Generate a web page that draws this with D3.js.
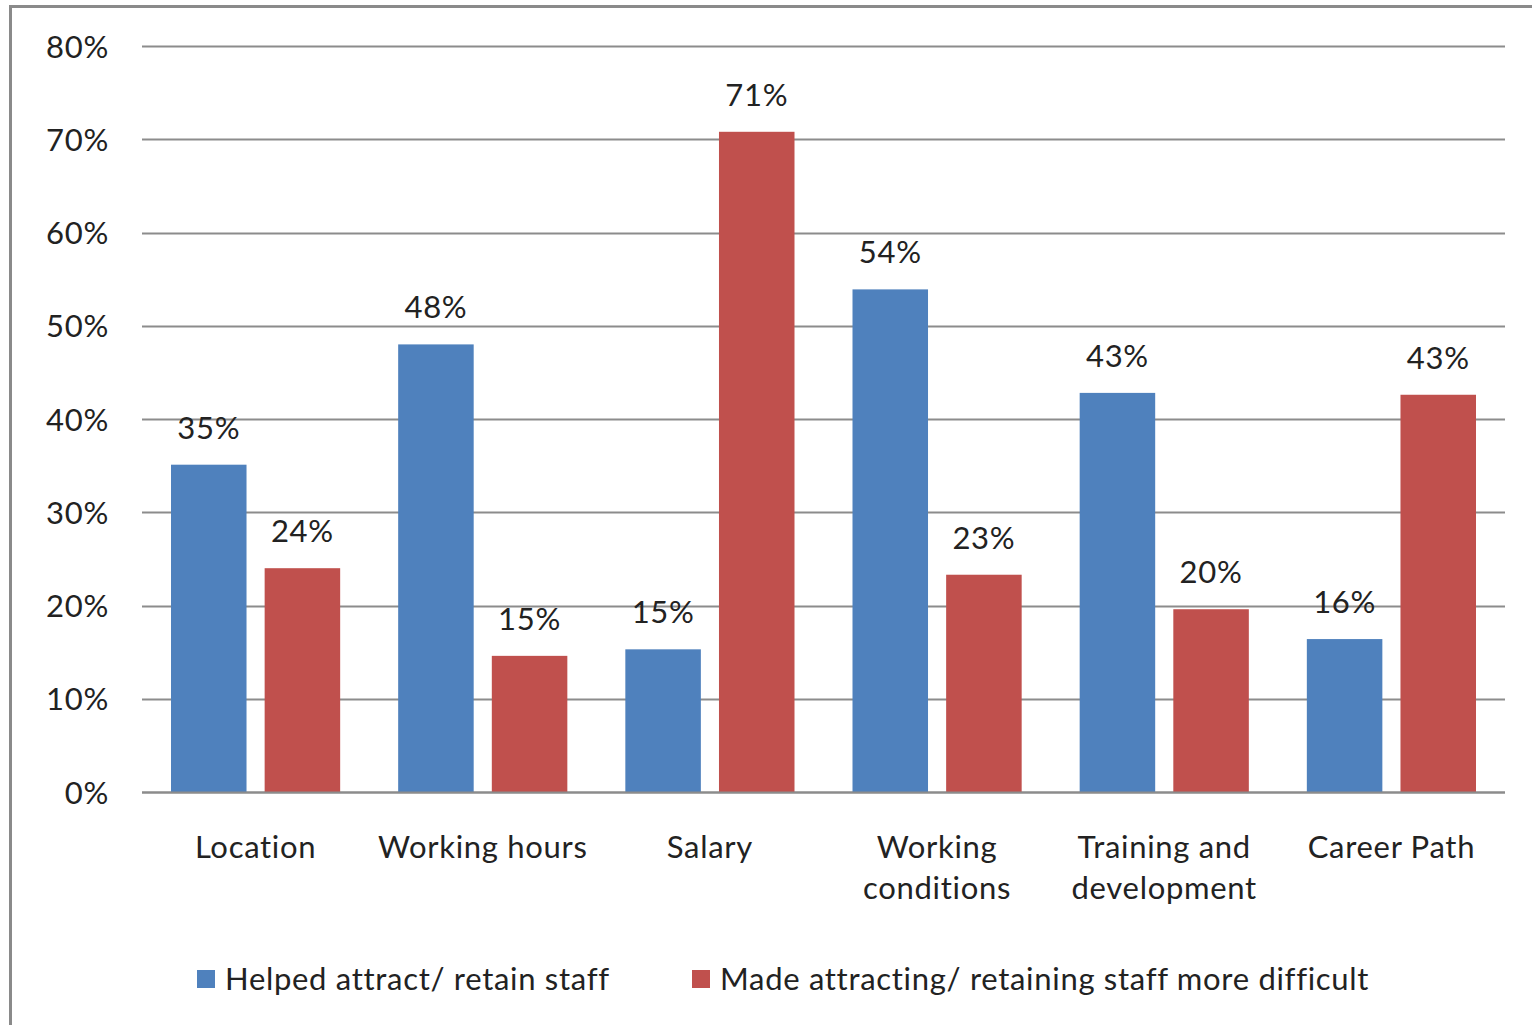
<!DOCTYPE html>
<html><head><meta charset="utf-8">
<script src="https://cdn.jsdelivr.net/npm/d3@7"></script>
<style>html,body{margin:0;padding:0;background:#fff;overflow:hidden}</style>
</head><body>
<script>
const categories = [["Location"],["Working hours"],["Salary"],["Working","conditions"],["Training and","development"],["Career Path"]];
const seriesNames = ["Helped attract/ retain staff","Made attracting/ retaining staff more difficult"];
const helped = [35.1, 48.0, 15.3, 53.9, 42.8, 16.4];
const difficult = [24.0, 14.6, 70.8, 23.3, 19.6, 42.6];
const yTicks = [0,10,20,30,40,50,60,70,80];
const colors = ["#4F81BD","#C0504D"];

const W=1532,H=1025;
const svg=d3.select("body").append("svg").attr("width",W).attr("height",H);
const font="Lato, 'Open Sans', sans-serif";
const fs=31, ls="0.7px";
svg.append("rect").attr("x",10.5).attr("y",6.5).attr("width",W+20).attr("height",H+20)
  .attr("fill","#fff").attr("stroke","#8a8a8a").attr("stroke-width",3);

const x0=d3.scaleBand().domain(d3.range(categories.length)).range([142,1505]).paddingInner(0).paddingOuter(0);
const y=d3.scaleLinear().domain([0,80]).range([792,46]);
const x1=d3.scaleBand().domain([0,1]).range([29, x0.bandwidth()-29]).paddingInner(18/93).paddingOuter(0);

// gridlines
svg.append("g").selectAll("line").data(yTicks).join("line")
  .attr("x1",142).attr("x2",1505).attr("y1",d=>Math.round(y(d))+0.5).attr("y2",d=>Math.round(y(d))+0.5)
  .attr("stroke","#8c8c8c").attr("stroke-width",2);

// y axis labels
const yAxis=d3.axisLeft(y).tickValues(yTicks).tickFormat(d=>d+"%").tickSize(0).tickPadding(0);
const ga=svg.append("g").attr("transform","translate(109,0)").call(yAxis);
ga.select(".domain").remove();
ga.selectAll("text").attr("font-family",font).attr("font-size",fs).attr("letter-spacing",ls).attr("fill","#222").attr("dy","0.36em");

const data=categories.map((c,i)=>({i,vals:[helped[i],difficult[i]]}));
const groups=svg.append("g").selectAll("g").data(data).join("g").attr("transform",d=>`translate(${x0(d.i)},0)`);
groups.selectAll("rect").data(d=>d.vals.map((v,k)=>({v,k}))).join("rect")
  .attr("x",d=>x1(d.k)).attr("width",x1.bandwidth())
  .attr("y",d=>y(d.v)).attr("height",d=>y(0)-y(d.v)).attr("fill",d=>colors[d.k]);
groups.selectAll("text.lbl").data(d=>d.vals.map((v,k)=>({v,k}))).join("text").attr("class","lbl")
  .attr("x",d=>x1(d.k)+x1.bandwidth()/2).attr("y",d=>y(d.v)-26)
  .attr("text-anchor","middle").attr("font-family",font).attr("font-size",fs).attr("letter-spacing",ls).attr("fill","#222")
  .text(d=>Math.round(d.v)+"%");

// baseline
svg.append("line").attr("x1",142).attr("x2",1505).attr("y1",792.5).attr("y2",792.5).attr("stroke","#8c8c8c").attr("stroke-width",2);

// category labels
groups.each(function(d){
  const g=d3.select(this);
  categories[d.i].forEach((line,j)=>{
    g.append("text").attr("x",x0.bandwidth()/2).attr("y",858+j*41).attr("text-anchor","middle")
      .attr("font-family",font).attr("font-size",fs).attr("letter-spacing",ls).attr("fill","#222").text(line);
  });
});

// legend
const legX=[197,692];
seriesNames.forEach((n,k)=>{
  svg.append("rect").attr("x",legX[k]).attr("y",970).attr("width",18).attr("height",18).attr("fill",colors[k]);
  svg.append("text").attr("x",legX[k]+28).attr("y",990).attr("font-family",font).attr("font-size",fs).attr("letter-spacing",ls).attr("fill","#222").text(n);
});
</script>
</body></html>
